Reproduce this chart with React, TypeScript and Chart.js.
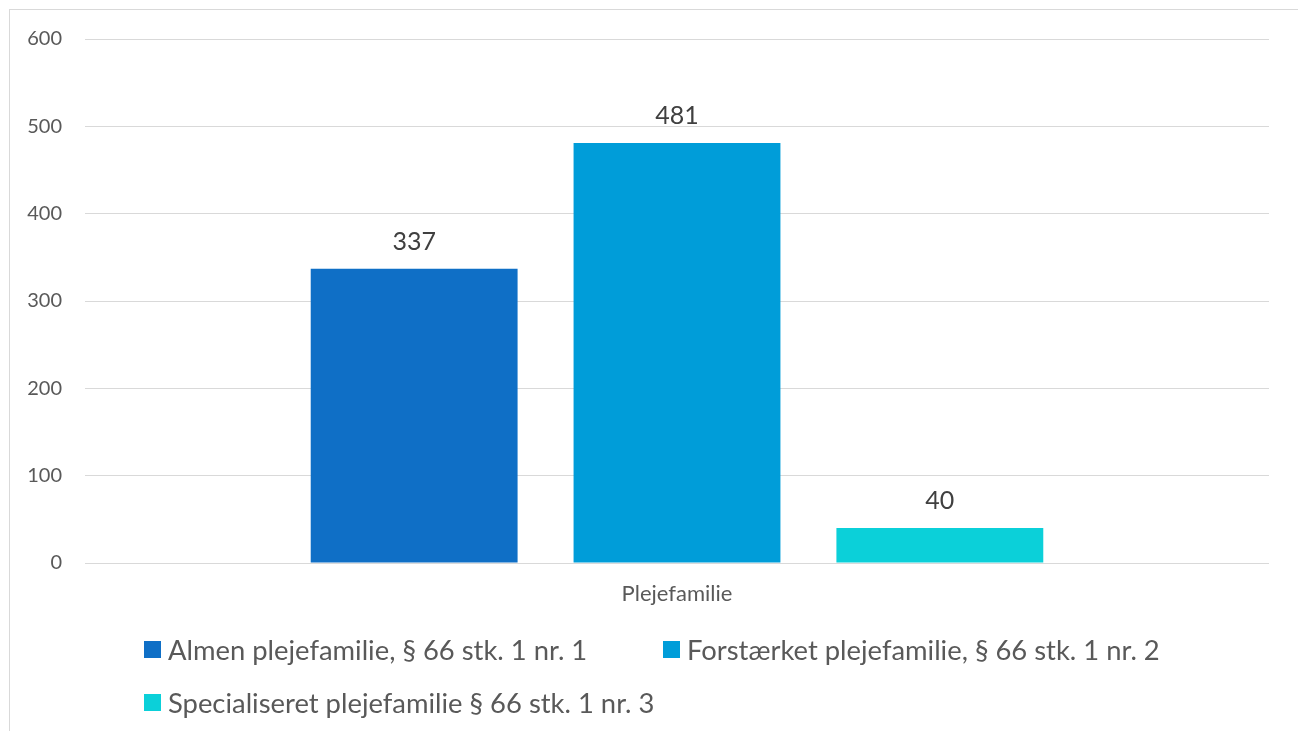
import React, { useEffect, useRef } from "react";
import { Chart, registerables } from "chart.js";

Chart.register(...registerables);

const categories = ["Plejefamilie"];
const seriesNames = [
  "Almen plejefamilie, § 66 stk. 1 nr. 1",
  "Forstærket plejefamilie, § 66 stk. 1 nr. 2",
  "Specialiseret plejefamilie § 66 stk. 1 nr. 3",
];
const almenValues = [337];
const forstaerketValues = [481];
const specialiseretValues = [40];
const seriesValues = [almenValues, forstaerketValues, specialiseretValues];
const seriesColors = ["#0F6FC6", "#009DD9", "#0BD0D9"];
const yMin = 0;
const yMax = 600;
const yStep = 100;

const FONT = "Lato, 'Open Sans', sans-serif";

const dataLabelPlugin = {
  id: "dataLabels",
  afterDatasetsDraw(chart: any) {
    const ctx = chart.ctx;
    ctx.save();
    ctx.font = `25px ${FONT}`;
    ctx.fillStyle = "#404040";
    ctx.textAlign = "center";
    ctx.textBaseline = "middle";
    chart.data.datasets.forEach((ds: any, i: number) => {
      const meta = chart.getDatasetMeta(i);
      meta.data.forEach((el: any, j: number) => {
        ctx.fillText(String(ds.data[j]), el.x, el.y - 27);
      });
    });
    ctx.restore();
  },
};

export default function App() {
  const ref = useRef<HTMLCanvasElement>(null);
  useEffect(() => {
    document.documentElement.style.overflow = "hidden";
    const chart = new Chart(ref.current!, {
      type: "bar",
      data: {
        labels: categories,
        datasets: seriesNames.map((name, i) => ({
          label: name,
          data: seriesValues[i],
          backgroundColor: seriesColors[i],
          categoryPercentage: 0.666,
          barPercentage: 0.787,
        })),
      },
      options: {
        responsive: false,
        animation: false,
        devicePixelRatio: 1,
        layout: { padding: { top: 29, right: 29, left: 0, bottom: 0 } },
        plugins: { legend: { display: false }, tooltip: { enabled: false } },
        scales: {
          y: {
            min: yMin,
            max: yMax,
            ticks: {
              stepSize: yStep,
              font: { family: FONT, size: 20 },
              color: "#595959",
              padding: 23,
            },
            grid: { color: "#d9d9d9", lineWidth: 1, drawTicks: false },
            border: { display: false },
            afterFit: (s: any) => {
              s.width = 75;
              s.paddingTop = 0;
              s.paddingBottom = 0;
            },
          },
          x: {
            ticks: {
              font: { family: FONT, size: 22 },
              color: "#595959",
              padding: 18,
            },
            grid: { display: false, drawTicks: false },
            border: { display: false },
            afterFit: (s: any) => {
              s.height = 67;
            },
          },
        },
      },
      plugins: [dataLabelPlugin],
    });
    return () => chart.destroy();
  }, []);

  return (
    <div
      style={{
        position: "absolute",
        left: 9,
        top: 9,
        width: 1290,
        height: 740,
        border: "1px solid #d9d9d9",
        boxSizing: "border-box",
        background: "#fff",
      }}
    >
      <canvas
        ref={ref}
        width={1288}
        height={620}
        style={{ position: "absolute", left: 0, top: 0, width: 1288, height: 620 }}
      />
      <div
        style={{
          position: "absolute",
          left: 134,
          top: 613,
          width: 1100,
          display: "flex",
          flexWrap: "wrap",
          fontFamily: FONT,
          fontSize: 27.4,
          color: "#595959",
        }}
      >
        {seriesNames.map((name, i) => (
          <div
            key={name}
            style={{
              width: 519,
              height: 53,
              display: "flex",
              alignItems: "center",
              whiteSpace: "nowrap",
            }}
          >
            <span
              style={{
                display: "inline-block",
                width: 17,
                height: 17,
                background: seriesColors[i],
                marginRight: 7,
                flex: "none",
              }}
            />
            <span>{name}</span>
          </div>
        ))}
      </div>
    </div>
  );
}
